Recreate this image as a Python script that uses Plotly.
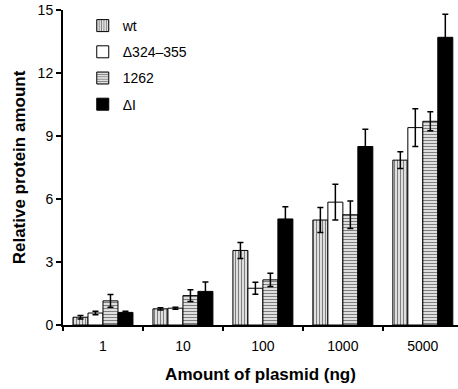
import plotly.graph_objects as go

categories = ["1", "10", "100", "1000", "5000"]
series_names = ["wt", "Δ324–355", "1262", "ΔI"]
wt = [0.37, 0.77, 3.55, 5.0, 7.85]
wt_err = [0.08, 0.05, 0.38, 0.6, 0.4]
d324 = [0.57, 0.8, 1.75, 5.85, 9.4]
d324_err = [0.08, 0.05, 0.28, 0.85, 0.9]
r1262 = [1.15, 1.4, 2.15, 5.25, 9.7]
r1262_err = [0.3, 0.28, 0.32, 0.65, 0.45]
dI = [0.6, 1.6, 5.05, 8.5, 13.7]
dI_err = [0.05, 0.45, 0.58, 0.82, 1.1]

values = [wt, d324, r1262, dI]
errors = [wt_err, d324_err, r1262_err, dI_err]
patterns = [
    dict(shape="|", fgcolor="black", bgcolor="white", size=3, solidity=0.5),
    dict(shape="", fgcolor="black", bgcolor="white"),
    dict(shape="-", fgcolor="black", bgcolor="white", size=3, solidity=0.5),
    dict(shape="", fgcolor="black", bgcolor="black"),
]
fills = ["white", "white", "white", "black"]

fig = go.Figure()
for i, name in enumerate(series_names):
    fig.add_trace(go.Bar(
        x=categories, y=values[i], name=name, legendgroup=name,
        marker=dict(color=fills[i], line=dict(color="black", width=1), pattern=patterns[i]),
        error_y=dict(type="data", array=errors[i], color="black", thickness=1.5, width=3),
    ))

fig.update_layout(
    width=458, height=389,
    margin=dict(l=63, r=0, t=10, b=64),
    paper_bgcolor="white", plot_bgcolor="white",
    barmode="group", bargap=0.25, bargroupgap=0,
    font=dict(family="Arial, Liberation Sans", size=14, color="black"),
    showlegend=True,
    legend=dict(x=0.05, y=1.0, xanchor="left", yanchor="top", tracegroupgap=5,
                font=dict(size=14), bgcolor="rgba(0,0,0,0)", itemwidth=30),
    xaxis=dict(type="category", range=[-0.5, 4.44], showline=True, linecolor="black", linewidth=2,
               ticks="outside", tickson="boundaries", ticklen=4, tickwidth=1.5, tickcolor="black",
               ticklabelstandoff=7,
               showgrid=False, zeroline=False, tickfont=dict(size=14),
               title=dict(text="<b>Amount of plasmid (ng)</b>", font=dict(size=17), standoff=15)),
    yaxis=dict(range=[0, 15], tickvals=[0, 3, 6, 9, 12, 15], showline=True, linecolor="black", linewidth=2,
               ticks="outside", ticklen=5, tickwidth=1.5, tickcolor="black",
               showgrid=False, zeroline=False, tickfont=dict(size=14),
               title=dict(text="<b>Relative protein amount</b>", font=dict(size=17), standoff=8)),
)
fig.write_html("out.html", config={"displayModeBar": False},
               post_script="document.body.style.margin='0';document.body.style.overflow='hidden';")
